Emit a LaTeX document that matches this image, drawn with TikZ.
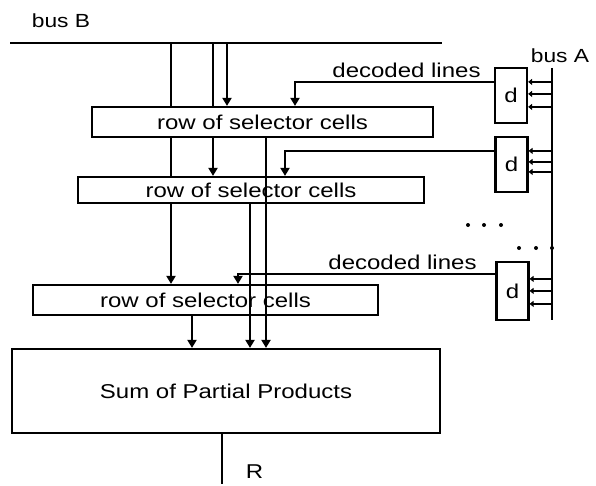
\documentclass[tikz,border=0pt]{standalone}
\usepackage{fontspec}
\setmainfont{Liberation Sans}[FakeStretch=1.2]
\usetikzlibrary{arrows.meta,calc}

\begin{document}
\begin{tikzpicture}[x=1pt,y=-1pt,
  wire/.style={line width=2.2pt},
  busline/.style={line width=2.8pt},
  arr/.style={wire,-{Triangle[width=9pt,length=8pt]}},
  tipin/.style={wire,-{Triangle[width=6pt,length=4pt]}},
  txt/.style={font=\fontsize{20}{24}\selectfont},
  cellrow/.style={draw,line width=2.2pt,inner sep=0pt,txt},
  decbox/.style={draw,line width=2.2pt,inner sep=0pt,minimum width=32pt,txt},
  lbl/.style={inner sep=0pt,txt},
  buslbl/.style={inner sep=0pt,font=\fontsize{19}{23}\selectfont}
]
\useasboundingbox (0,0) rectangle (596,486);

% buses
\coordinate (bBl) at (10,43);
\coordinate (bBr) at (442,43);
\draw[busline] (bBl) -- (bBr);
\node[buslbl] (labB) at (61,21) {bus B};

\coordinate (bAt) at (552,68);
\coordinate (bAb) at (552,320);
\draw[wire] (bAt) -- (bAb);
\node[buslbl] (labA) at (560,56) {bus A};

% selector rows and adder
\node[cellrow,minimum width=341pt,minimum height=30pt] (r1) at (262.5,122) {row of selector cells};
\node[cellrow,minimum width=346pt,minimum height=26pt] (r2) at (251,190) {row of selector cells};
\node[cellrow,minimum width=345pt,minimum height=30pt] (r3) at (205.5,300) {row of selector cells};
\node[cellrow,minimum width=428pt,minimum height=84pt] (sum) at (226,391) {Sum of Partial Products};

% decoders
\node[decbox,minimum height=55pt] (d1) at (511,95.5) {d};
\node[decbox,minimum height=55pt] (d2) at (511.5,164.5) {d};
\node[decbox,minimum height=58pt] (d3) at (512.5,291) {d};

% bus A into the decoders
\foreach \d/\o in {d1/15,d1/27,d1/40,d2/15,d2/26,d2/36,d3/18,d3/30,d3/43}{
  \coordinate (p) at ($(\d.north east)+(0,\o)$);
  \draw[tipin] (p -| bAt) -- (p);
}

% continuation dots
\foreach \x/\y in {468/225,484/225,501/225,519/248,536/248,552/248}
  \fill (\x,\y) circle (2);

% decoded lines to the rows
\coordinate (g1) at (295,0);
\coordinate (g2) at (285,0);
\coordinate (g3) at (238,0);
\draw[arr] ($(d1.north west)+(0,15)$) -| (g1 |- r1.north);
\draw[arr] ($(d2.north west)+(0,15)$) -| (g2 |- r2.north);
\draw[arr] ($(d3.north west)+(0,13)$) -| (g3 |- r3.north);
\node[lbl] (dl1) at (406.5,70) {decoded lines};
\node[lbl] (dl3) at (402.5,262) {decoded lines};

% bus B feeds
\coordinate (cA) at (171,43);
\coordinate (cB) at (213,43);
\coordinate (cC) at (227,43);
\draw[wire] (cA) -- (cA |- r1.north);
\draw[wire] (cA |- r1.south) -- (cA |- r2.north);
\draw[arr] (cA |- r2.south) -- (cA |- r3.north);
\draw[wire] (cB) -- (cB |- r1.north);
\draw[arr] (cB |- r1.south) -- (cB |- r2.north);
\draw[arr] (cC) -- (cC |- r1.north);

% partial products to the adder
\coordinate (xD) at (266,0);
\coordinate (xE) at (250,0);
\coordinate (xF) at (192,0);
\draw[arr] (xD |- r1.south) -- (xD |- sum.north);
\draw[arr] (xE |- r2.south) -- (xE |- sum.north);
\draw[arr] (xF |- r3.south) -- (xF |- sum.north);

% result
\coordinate (rEnd) at (222,484);
\draw[wire] (sum.south -| rEnd) -- (rEnd);
\node[lbl] (labR) at (254.5,472) {R};
\end{tikzpicture}
\end{document}
